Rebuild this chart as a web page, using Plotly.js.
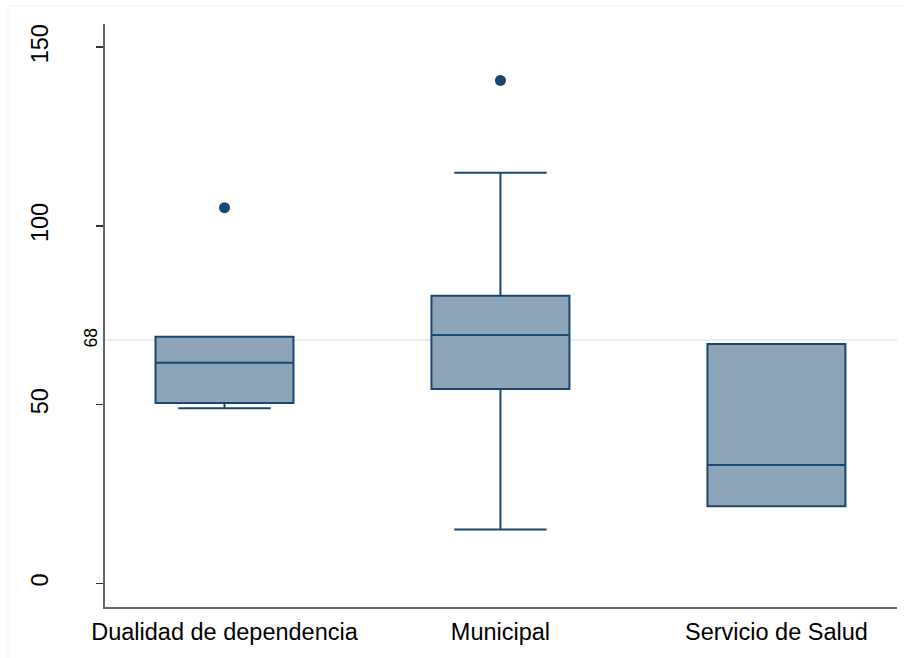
<!DOCTYPE html>
<html>
<head>
<meta charset="utf-8">
<script src="https://cdn.plot.ly/plotly-3.0.1.min.js"></script>
<style>html,body{margin:0;padding:0;background:#fff;}#chart{width:904px;height:658px;}</style>
</head>
<body>
<div id="chart"></div>
<script>
const categories = ["Dualidad de dependencia", "Municipal", "Servicio de Salud"];
const lowerFence = [49.0, 15.1, 21.6];
const q1Values = [50.5, 54.4, 21.6];
const medianValues = [61.7, 69.5, 33.1];
const q3Values = [69.0, 80.5, 67.0];
const upperFence = [69.0, 114.9, 67.0];
const outlierCategory = ["Dualidad de dependencia", "Municipal"];
const outlierValues = [105.1, 140.7];
const yTickValues = [0, 50, 100, 150];
const referenceLine = [68];

const navy = "#1A476F";
const font = "Liberation Sans, Arial, sans-serif";

const traces = [
  {
    type: "box",
    x: categories,
    q1: q1Values,
    median: medianValues,
    q3: q3Values,
    lowerfence: lowerFence,
    upperfence: upperFence,
    width: 0.5,
    whiskerwidth: 0.67,
    fillcolor: "#8EA4B8",
    line: {color: navy, width: 2},
    boxpoints: false,
    hoverinfo: "skip",
    showlegend: false
  },
  {
    type: "scatter",
    mode: "markers",
    x: outlierCategory,
    y: outlierValues,
    marker: {color: navy, size: 11},
    showlegend: false,
    hoverinfo: "skip"
  },
  {
    type: "scatter",
    mode: "markers",
    x: [categories[0]],
    y: [referenceLine[0]],
    yaxis: "y2",
    marker: {opacity: 0},
    showlegend: false,
    hoverinfo: "skip"
  }
];

const layout = {
  width: 904,
  height: 658,
  margin: {l: 105, r: 7, t: 24, b: 51},
  paper_bgcolor: "#ffffff",
  plot_bgcolor: "#ffffff",
  font: {family: font, color: "#000"},
  xaxis: {
    type: "category",
    categoryarray: categories,
    range: [-0.433, 2.437],
    showline: true,
    linecolor: "#666666",
    linewidth: 2,
    ticks: "",
    showgrid: false,
    zeroline: false,
    tickfont: {size: 23.5, family: font, color: "#000"},
    ticklabelstandoff: 3
  },
  yaxis: {
    range: [-6.6, 156.5],
    tickvals: yTickValues,
    ticktext: yTickValues.map(String),
    tickangle: -90,
    ticks: "outside",
    ticklen: 7,
    tickwidth: 1.5,
    tickcolor: "#333333",
    showline: true,
    linecolor: "#666666",
    linewidth: 2,
    showgrid: false,
    zeroline: false,
    tickfont: {size: 23.5, family: font, color: "#000"},
    ticklabelstandoff: 39
  },
  yaxis2: {
    overlaying: "y",
    side: "left",
    range: [-6.6, 156.5],
    tickvals: referenceLine,
    ticktext: referenceLine.map(String),
    tickangle: -90,
    ticks: "",
    showgrid: true,
    gridcolor: "#E8EFF2",
    gridwidth: 2,
    showline: false,
    zeroline: false,
    tickfont: {size: 17.5, family: font, color: "#000"},
    ticklabelstandoff: 4,
    layer: "below traces"
  },
  shapes: [
    {type: "rect", xref: "paper", yref: "paper", x0: -0.1225, x1: 1.03, y0: -0.1, y1: 1.031,
     line: {color: "#F2F2F2", width: 1}, fillcolor: "rgba(0,0,0,0)", layer: "below"}
  ]
};

Plotly.newPlot("chart", traces, layout, {staticPlot: true, displayModeBar: false});
</script>
</body>
</html>
